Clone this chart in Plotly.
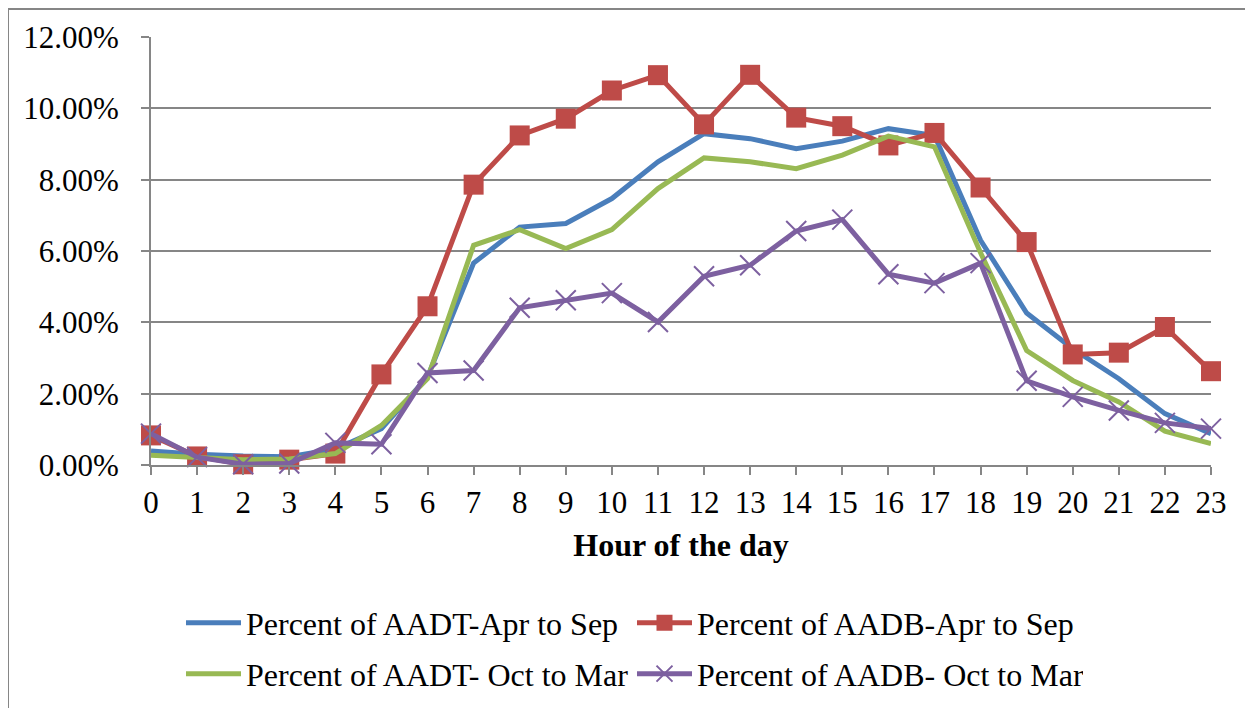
import plotly.graph_objects as go

hours = list(range(24))

aadt_apr_sep = [0.39, 0.30, 0.25, 0.23, 0.45, 1.02, 2.47, 5.66, 6.67, 6.77, 7.47, 8.50,
                9.29, 9.15, 8.87, 9.08, 9.43, 9.24, 6.30, 4.26, 3.26, 2.42, 1.44, 0.88]
aadb_apr_sep = [0.83, 0.24, 0.02, 0.15, 0.32, 2.54, 4.45, 7.86, 9.24, 9.71, 10.50, 10.93,
                9.55, 10.94, 9.74, 9.50, 8.96, 9.31, 7.78, 6.25, 3.10, 3.15, 3.87, 2.63]
aadt_oct_mar = [0.27, 0.21, 0.15, 0.17, 0.32, 1.11, 2.42, 6.16, 6.60, 6.07, 6.60, 7.75,
                8.61, 8.50, 8.31, 8.69, 9.22, 8.92, 5.95, 3.21, 2.37, 1.77, 0.95, 0.60]
aadb_oct_mar = [0.88, 0.22, 0.02, 0.04, 0.62, 0.58, 2.58, 2.65, 4.41, 4.62, 4.82, 4.01,
                5.29, 5.60, 6.56, 6.88, 5.35, 5.10, 5.66, 2.36, 1.91, 1.53, 1.18, 1.02]

names = ["Percent of AADT-Apr to Sep", "Percent of AADB-Apr to Sep",
         "Percent of AADT- Oct to Mar", "Percent of AADB- Oct to Mar"]

font = "Liberation Serif, Times New Roman, serif"
grid = "#868686"

fig = go.Figure()

# blue - no markers (legend row 1)
fig.add_trace(go.Scatter(x=hours, y=[v / 100 for v in aadt_apr_sep], name=names[0],
                         mode="lines", line=dict(color="#4A7EBB", width=5),
                         cliponaxis=False, legend="legend"))
# red - squares (legend row 1)
fig.add_trace(go.Scatter(x=hours, y=[v / 100 for v in aadb_apr_sep], name=names[1],
                         mode="lines+markers", line=dict(color="#BE4B48", width=5),
                         marker=dict(symbol="square", size=20, color="#BE4B48"),
                         cliponaxis=False, legend="legend"))
# green - no markers (legend row 2)
fig.add_trace(go.Scatter(x=hours, y=[v / 100 for v in aadt_oct_mar], name=names[2],
                         mode="lines", line=dict(color="#98B954", width=5),
                         cliponaxis=False, legend="legend2"))
# purple - x markers (legend row 2)
fig.add_trace(go.Scatter(x=hours, y=[v / 100 for v in aadb_oct_mar], name=names[3],
                         mode="lines+markers", line=dict(color="#7D60A0", width=5),
                         marker=dict(symbol="x-thin", size=20,
                                     line=dict(color="#7D60A0", width=2)),
                         cliponaxis=False, legend="legend2"))

legend_common = dict(orientation="h", x=0.0283, xanchor="left", yanchor="middle",
                     entrywidth=381, entrywidthmode="pixels",
                     font=dict(family=font, size=32, color="black"),
                     itemwidth=55, bgcolor="rgba(0,0,0,0)")

fig.update_layout(
    width=1253, height=708,
    margin=dict(l=143, r=50, t=29, b=251),
    paper_bgcolor="white", plot_bgcolor="white",
    font=dict(family=font, size=31, color="black"),
    showlegend=True,
    legend=dict(legend_common, y=-0.369),
    legend2=dict(legend_common, y=-0.488),
    shapes=[dict(type="rect", xref="paper", yref="paper",
                 x0=-0.1349, x1=1.2, y0=-1.0, y1=1.0654,
                 line=dict(color=grid, width=2), layer="below")],
)

fig.update_xaxes(
    range=[0, 23], tickmode="array", tickvals=hours, ticktext=[str(h) for h in hours],
    showgrid=False, showline=True, linecolor=grid, linewidth=2,
    ticks="outside", ticklen=8, tickwidth=2, tickcolor=grid,
    ticklabelstandoff=1, zeroline=False,
    title=dict(text="<b>Hour of the day</b>", font=dict(family=font, size=32), standoff=14),
)
fig.update_yaxes(
    range=[0, 0.12], tickmode="array", tickvals=[0, 0.02, 0.04, 0.06, 0.08, 0.10, 0.12],
    tickformat=".2%", showgrid=True, gridcolor=grid, gridwidth=2,
    showline=True, linecolor=grid, linewidth=2,
    ticks="outside", ticklen=8, tickwidth=2, tickcolor=grid,
    ticklabelstandoff=16, zeroline=False,
)

fig.write_html("out.html")
